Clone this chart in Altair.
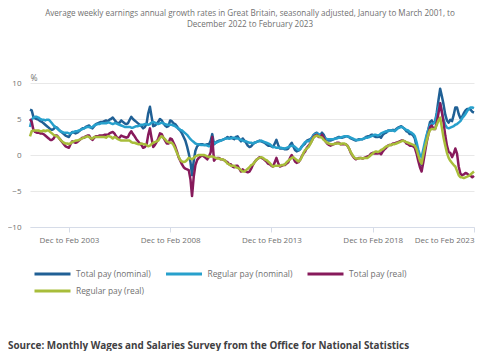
import altair as alt
import pandas as pd

# Three-month periods, each dated by its final month: first is Jan to Mar 2001
period_start = "2001-03-01"
series_names = ["Total pay (nominal)", "Regular pay (nominal)", "Total pay (real)", "Regular pay (real)"]
series_colors = ["#206095", "#27a0cc", "#871a5b", "#a8bd3a"]
tick_years = [2003, 2008, 2013, 2018, 2023]
y_ticks = [-10, -5, 0, 5, 10]

title_lines = [
    "Average weekly earnings annual growth rates in Great Britain, seasonally adjusted, January to March 2001, to",
    "December 2022 to February 2023",
]
source_text = ["Source: Monthly Wages and Salaries Survey from the Office for National Statistics"]

total_nominal = [
    6.3, 6.2, 5.3, 5.1, 5.0, 4.9, 4.7, 4.6, 4.4, 4.2,
    4.0, 3.8, 3.6, 3.5, 3.6, 3.9, 3.8, 3.5, 3.3, 3.1, 2.9, 2.7,
    2.6, 2.5, 2.9, 3.2, 3.1, 3.0, 3.1, 3.3, 3.5, 3.7, 3.7, 3.9,
    4.0, 4.1, 3.8, 3.7, 4.0, 4.3, 4.4, 4.5, 4.6, 4.6, 4.7, 4.8,
    4.7, 4.9, 5.0, 5.2, 4.9, 4.6, 4.4, 4.5, 4.8, 4.6, 4.4, 4.3,
    4.4, 4.9, 5.3, 5.0, 4.8, 4.6, 4.4, 4.2, 4.0, 3.7, 3.9, 4.3,
    5.8, 6.7, 5.4, 4.0, 4.1, 4.3, 4.6, 5.0, 4.8, 4.4, 4.1, 3.9,
    4.0, 4.8, 4.7, 4.4, 4.3, 4.0, 3.6, 3.4, 3.0, 2.5, 2.0, 1.2,
    0.2, -1.0, -2.8, -0.8, 0.6, 1.2, 1.4, 1.5, 1.5, 1.4, 1.4, 1.5,
    1.5, 2.0, 2.9, 1.5, 1.7, 1.9, 2.0, 2.0, 2.1, 2.2, 2.3, 2.5,
    2.3, 2.5, 2.3, 2.2, 2.5, 2.6, 2.2, 1.9, 2.3, 2.0, 1.7, 1.3,
    1.1, 1.2, 1.5, 1.7, 1.8, 1.9, 2.0, 1.9, 1.8, 1.7, 1.5, 1.3,
    1.3, 1.2, 1.1, 1.6, 2.1, 1.4, 0.9, 0.9, 0.9, 0.8, 0.8, 0.9,
    1.4, 1.7, 1.2, 0.7, 0.5, 0.6, 0.8, 1.2, 1.4, 1.6, 2.0, 2.1,
    2.2, 2.4, 2.8, 3.0, 3.1, 2.8, 2.8, 3.1, 2.8, 2.3, 2.1, 2.0,
    2.0, 2.1, 2.2, 2.3, 2.4, 2.5, 2.4, 2.4, 2.5, 2.6, 2.6, 2.5,
    2.3, 2.2, 2.1, 2.0, 2.1, 2.2, 2.2, 2.2, 2.3, 2.5, 2.6, 2.6,
    2.8, 2.8, 2.6, 2.5, 2.5, 2.6, 2.4, 2.8, 3.0, 3.1, 3.4, 3.4,
    3.4, 3.5, 3.4, 3.6, 3.8, 3.9, 4.0, 3.8, 3.6, 3.3, 3.2, 2.9,
    2.9, 2.7, 2.3, 1.2, 0.0, -0.9, -1.4, -0.2, 1.2, 2.6, 3.6, 4.6,
    4.8, 4.4, 4.6, 5.9, 7.6, 9.2, 8.2, 7.0, 5.6, 4.8, 4.5, 4.9,
    4.7, 5.6, 6.6, 6.6, 5.7, 5.1, 5.3, 5.8, 6.2, 6.4, 6.4, 6.3,
    6.0, 5.9,
]

regular_nominal = [
    3.9, 4.9, 5.2, 5.3, 5.3, 5.2, 5.0, 4.9, 4.9, 4.8,
    4.9, 4.9, 4.7, 4.4, 4.1, 3.9, 3.7, 3.5, 3.3, 3.2, 3.1, 3.1,
    3.1, 3.0, 3.0, 3.1, 3.2, 3.3, 3.3, 3.4, 3.5, 3.6, 3.7, 3.8,
    3.9, 3.9, 3.8, 3.9, 4.1, 4.2, 4.3, 4.3, 4.4, 4.4, 4.4, 4.4,
    4.5, 4.5, 4.4, 4.3, 4.4, 4.4, 4.3, 4.2, 4.1, 4.0, 3.9, 3.9,
    3.9, 3.9, 3.8, 3.8, 3.9, 4.0, 4.0, 4.1, 4.2, 4.2, 4.3, 4.3,
    4.2, 4.3, 4.5, 4.6, 4.5, 4.4, 4.3, 4.4, 4.5, 4.4, 4.3, 4.2,
    4.2, 4.2, 4.2, 4.1, 4.0, 3.8, 3.7, 3.5, 3.4, 3.2, 3.0, 2.8,
    2.5, 2.2, 2.0, 1.8, 1.6, 1.5, 1.5, 1.4, 1.4, 1.4, 1.4, 1.3,
    1.2, 1.3, 1.5, 1.6, 1.7, 1.8, 1.9, 2.0, 2.1, 2.2, 2.3, 2.3,
    2.3, 2.3, 2.4, 2.4, 2.3, 2.3, 2.2, 2.1, 2.0, 1.9, 1.9, 1.8,
    1.7, 1.7, 1.6, 1.7, 1.8, 1.9, 1.9, 2.0, 1.9, 1.8, 1.7, 1.6,
    1.5, 1.3, 1.1, 1.1, 1.0, 1.0, 1.0, 1.0, 0.9, 0.9, 1.0, 1.1,
    1.2, 1.3, 1.3, 1.1, 0.9, 0.7, 0.8, 1.1, 1.5, 1.8, 1.9, 1.9,
    2.1, 2.4, 2.7, 2.9, 3.0, 2.9, 2.8, 2.7, 2.5, 2.3, 2.2, 2.2,
    2.2, 2.2, 2.2, 2.3, 2.3, 2.4, 2.4, 2.5, 2.6, 2.6, 2.6, 2.5,
    2.4, 2.3, 2.2, 2.1, 2.1, 2.1, 2.2, 2.2, 2.3, 2.4, 2.4, 2.5,
    2.6, 2.7, 2.8, 2.8, 2.7, 2.8, 3.0, 3.1, 3.2, 3.3, 3.3, 3.4,
    3.4, 3.4, 3.3, 3.5, 3.7, 3.8, 3.9, 3.8, 3.6, 3.5, 3.4, 3.2,
    3.1, 2.9, 2.6, 1.8, 0.8, 0.0, -0.3, 0.8, 1.9, 2.8, 3.6, 4.2,
    4.3, 4.4, 4.6, 5.6, 6.6, 7.2, 6.0, 4.9, 4.2, 3.8, 3.7, 3.8,
    3.9, 4.0, 4.2, 4.3, 4.5, 4.7, 5.1, 5.4, 5.7, 6.1, 6.4, 6.6,
    6.6, 6.5,
]

total_real = [
    5.0, 4.6, 3.5, 3.2, 3.1, 3.1, 3.0, 3.0, 2.9, 2.7,
    2.5, 2.3, 2.1, 2.1, 2.3, 2.7, 2.7, 2.4, 2.1, 1.8, 1.5, 1.2,
    1.1, 1.0, 1.5, 1.9, 1.8, 1.7, 1.8, 2.0, 2.2, 2.4, 2.4, 2.6,
    2.7, 2.7, 2.3, 2.1, 2.4, 2.6, 2.6, 2.7, 2.7, 2.7, 2.8, 2.8,
    2.8, 3.0, 3.1, 3.2, 3.0, 2.6, 2.3, 2.4, 2.7, 2.6, 2.5, 2.4,
    2.5, 3.0, 3.3, 2.9, 2.6, 2.2, 1.9, 1.6, 1.4, 1.0, 1.1, 1.4,
    2.8, 3.7, 2.4, 1.1, 1.4, 1.8, 2.3, 3.0, 2.9, 2.4, 2.0, 1.6,
    1.6, 2.3, 2.2, 1.7, 1.2, 0.5, -0.3, -0.8, -1.3, -1.7, -1.9, -2.0,
    -2.1, -3.4, -5.7, -3.0, -1.4, -0.7, -0.4, -0.2, -0.1, -0.2, -0.4, -0.6,
    -0.2, 0.4, 2.5, -0.8, -0.5, -0.4, -0.4, -0.6, -0.6, -0.7, -0.9, -1.0,
    -1.3, -1.3, -1.6, -1.7, -1.5, -1.5, -1.9, -2.3, -2.0, -2.2, -2.3, -2.4,
    -2.3, -1.9, -1.4, -1.0, -0.7, -0.5, -0.3, -0.4, -0.5, -0.7, -0.9, -1.2,
    -1.3, -1.5, -1.6, -1.0, -0.4, -1.1, -1.6, -1.5, -1.4, -1.4, -1.2, -1.0,
    -0.4, 0.0, -0.4, -0.9, -1.1, -1.0, -0.7, -0.2, 0.2, 0.5, 1.0, 1.3,
    1.6, 2.0, 2.5, 2.7, 2.8, 2.5, 2.5, 2.8, 2.4, 1.9, 1.6, 1.4,
    1.3, 1.4, 1.5, 1.6, 1.7, 1.7, 1.5, 1.5, 1.5, 1.5, 1.3, 0.9,
    0.3, -0.1, -0.4, -0.6, -0.5, -0.4, -0.4, -0.5, -0.4, -0.3, -0.2, -0.1,
    0.2, 0.3, 0.2, 0.2, 0.2, 0.3, 0.1, 0.5, 0.8, 1.0, 1.3, 1.4,
    1.4, 1.6, 1.6, 1.7, 1.8, 1.9, 2.0, 2.0, 1.9, 1.6, 1.5, 1.3,
    1.3, 1.2, 1.0, 0.2, -0.8, -1.7, -2.3, -1.0, 0.4, 1.8, 2.9, 3.9,
    4.1, 3.6, 3.6, 4.5, 5.8, 7.2, 6.0, 4.5, 2.7, 1.3, 0.4, 0.3,
    -0.3, 0.2, 0.9, 0.2, -1.6, -2.6, -2.8, -2.7, -2.5, -2.6, -2.8, -2.9,
    -3.1, -2.9,
]

regular_real = [
    2.6, 3.3, 3.4, 3.4, 3.4, 3.4, 3.3, 3.3, 3.4, 3.3,
    3.4, 3.4, 3.2, 3.0, 2.8, 2.7, 2.6, 2.4, 2.1, 1.9, 1.7, 1.6,
    1.6, 1.5, 1.6, 1.8, 1.9, 2.0, 2.0, 2.1, 2.2, 2.3, 2.4, 2.5,
    2.6, 2.5, 2.3, 2.3, 2.5, 2.5, 2.5, 2.5, 2.5, 2.5, 2.5, 2.4,
    2.6, 2.6, 2.5, 2.3, 2.5, 2.4, 2.2, 2.1, 2.0, 2.0, 2.0, 2.0,
    2.0, 2.0, 1.8, 1.7, 1.7, 1.6, 1.5, 1.5, 1.6, 1.5, 1.5, 1.4,
    1.2, 1.3, 1.5, 1.7, 1.8, 1.9, 2.0, 2.4, 2.6, 2.4, 2.2, 1.9,
    1.8, 1.7, 1.7, 1.4, 0.9, 0.3, -0.2, -0.7, -0.9, -1.0, -0.9, -0.7,
    -0.4, -0.5, -0.6, -0.4, -0.2, -0.1, 0.0, 0.0, 0.0, 0.0, -0.1, -0.2,
    -0.3, -0.2, -0.2, -0.3, -0.4, -0.5, -0.5, -0.6, -0.6, -0.7, -0.9, -1.2,
    -1.3, -1.5, -1.5, -1.5, -1.7, -1.8, -1.9, -2.1, -2.3, -2.3, -2.1, -1.9,
    -1.7, -1.4, -1.3, -1.0, -0.7, -0.5, -0.4, -0.3, -0.4, -0.6, -0.7, -0.9,
    -1.1, -1.4, -1.6, -1.5, -1.5, -1.5, -1.5, -1.4, -1.4, -1.3, -1.0, -0.8,
    -0.6, -0.4, -0.3, -0.5, -0.7, -0.9, -0.7, -0.3, 0.3, 0.7, 0.9, 1.1,
    1.5, 2.0, 2.4, 2.6, 2.7, 2.6, 2.5, 2.4, 2.1, 1.9, 1.7, 1.6,
    1.5, 1.5, 1.5, 1.6, 1.6, 1.6, 1.5, 1.6, 1.6, 1.5, 1.3, 0.9,
    0.4, 0.0, -0.3, -0.5, -0.5, -0.5, -0.4, -0.5, -0.4, -0.4, -0.4, -0.2,
    0.0, 0.2, 0.4, 0.5, 0.4, 0.5, 0.7, 0.8, 1.0, 1.2, 1.2, 1.4,
    1.4, 1.5, 1.5, 1.6, 1.7, 1.8, 1.9, 2.0, 1.9, 1.8, 1.7, 1.6,
    1.5, 1.4, 1.3, 0.8, 0.0, -0.8, -1.2, 0.0, 1.1, 2.0, 2.9, 3.5,
    3.6, 3.6, 3.6, 4.2, 4.8, 5.2, 3.8, 2.4, 1.3, 0.3, -0.4, -0.8,
    -1.1, -1.4, -1.6, -2.2, -2.8, -3.1, -3.1, -3.2, -3.1, -3.0, -2.9, -2.7,
    -2.5, -2.3,
]

FONT = "Open Sans"
GREY = "#707070"

months = pd.date_range(period_start, periods=len(total_nominal), freq="MS")
rows = []
for name, vals in zip(series_names, [total_nominal, regular_nominal, total_real, regular_real]):
    for d, v in zip(months, vals):
        rows.append({"date": d.strftime("%Y-%m-%d"), "series": name, "value": v})
df = pd.DataFrame(rows)

x_axis = alt.Axis(
    values=[alt.DateTime(year=y, month=2, date=1, utc=True) for y in tick_years],
    labelExpr="'Dec to Feb ' + utcFormat(datum.value, '%Y')",
    title=None, grid=False, domainColor="#d6dce8", tickColor="#d6dce8",
    tickSize=5, labelColor=GREY, labelFontSize=8, labelFont=FONT, labelPadding=4,
)
y_axis = alt.Axis(
    values=y_ticks, title="%", titleAngle=0, titleAlign="left", titleX=0, titleY=-3,
    titleBaseline="alphabetic", titleFont=FONT, titleFontSize=8.5, titleFontWeight="normal",
    titleColor=GREY, labelColor=GREY, labelFontSize=8, labelFont=FONT, labelPadding=9,
    domain=False, ticks=False, gridColor="#e8e8e8",
)

lines = alt.Chart(df).mark_line(strokeWidth=2.5, strokeJoin="round").encode(
    x=alt.X("date:T", axis=x_axis, scale=alt.Scale(type="utc", domain=[
        alt.DateTime(year=2001, month=3, date=1, utc=True),
        alt.DateTime(year=2023, month=2, date=1, utc=True)])),
    y=alt.Y("value:Q", axis=y_axis, scale=alt.Scale(domain=[-10, 10])),
    color=alt.Color("series:N", scale=alt.Scale(domain=series_names, range=series_colors),
                    sort=series_names,
                    legend=alt.Legend(title=None, orient="none", legendX=16.5, legendY=185,
                                      direction="horizontal", columns=3, symbolType="M-4,0H4",
                                      symbolStrokeWidth=3, symbolSize=81, labelFontSize=8.4,
                                      labelFont=FONT, labelColor=GREY, columnPadding=8.5,
                                      rowPadding=5, labelOffset=17.5, padding=0)),
)

src = alt.Chart(pd.DataFrame({"text": source_text})).mark_text(
    align="left", baseline="alphabetic", font=FONT, fontSize=9.9, fontWeight="bold", color="#414042"
).encode(text="text:N", x=alt.value(-22), y=alt.value(266))

chart = alt.layer(lines, src).properties(
    width=444, height=144,
    title=alt.TitleParams(text=title_lines, anchor="middle", font=FONT, fontSize=8.1,
                          fontWeight="normal", color=GREY, offset=44, lineHeight=11, dx=-2),
    autosize=alt.AutoSizeParams(type="none"),
    padding={"left": 22, "top": 75, "right": 18, "bottom": 124},
).configure_view(stroke=None)

chart.save("out.html", embed_options={"renderer": "svg", "actions": False})
